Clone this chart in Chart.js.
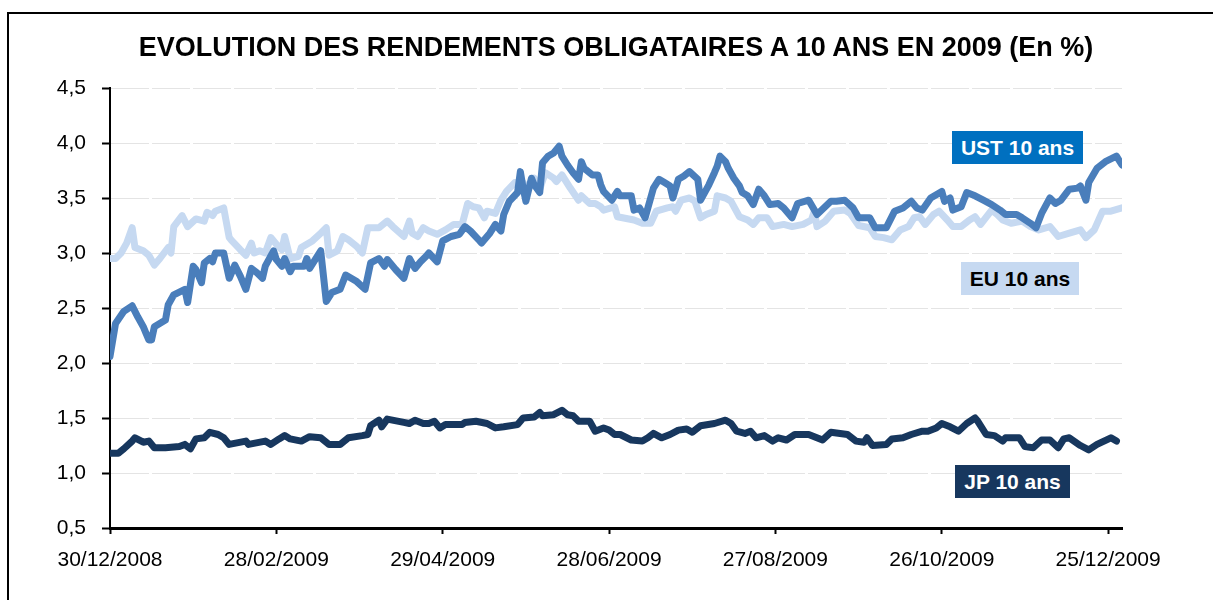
<!DOCTYPE html>
<html>
<head>
<meta charset="utf-8">
<script src="https://cdn.jsdelivr.net/npm/chart.js@4.4.1/dist/chart.umd.min.js"></script>
<style>
  body { margin: 0; background: #fff; font-family: "Liberation Sans", Arial, sans-serif; }
  #wrap { position: relative; width: 1213px; height: 600px; overflow: hidden; }
  #frame { position: absolute; left: 7px; top: 12px; width: 1300px; height: 700px; border: 2px solid #000; }
  #chart { position: absolute; left: 0; top: 0; }
  .title { position: absolute; left: 0; top: 34px; width: 1232px; text-align: center;
           font-weight: bold; font-size: 27px; line-height: 27px; color: #000; }
  .tag { position: absolute; height: 33px; line-height: 33px; text-align: center;
         font-weight: bold; font-size: 21px; }
</style>
</head>
<body>
<div id="wrap">
  <div id="frame"></div>
  <canvas id="chart" width="1213" height="600"></canvas>
  <div class="title">EVOLUTION DES RENDEMENTS OBLIGATAIRES A 10 ANS EN 2009 (En %)</div>
  <div class="tag" style="left:952px;top:131px;width:131px;background:#0070c0;color:#fff">UST 10 ans</div>
  <div class="tag" style="left:961px;top:262px;width:118px;background:#c6d9f1;color:#000">EU 10 ans</div>
  <div class="tag" style="left:955px;top:465px;width:115px;background:#17375e;color:#fff">JP 10 ans</div>
</div>
<script>
// ===== DATA (days counted from 30/12/2008) =====
const startDate = Date.UTC(2008, 11, 30);
const xTickDays = [0, 60, 120, 180, 240, 300, 360];
const xMaxDay = 365;

const ustDays = [0,2,5,8,10,12,13,14,15,16,20,21,23,27,28,30,31,33,34,36,37,38,41,43,45,47,49,51,53,55,56,59,60,62,63,65,66,70,71,72,76,78,80,83,85,87,89,92,94,97,99,100,103,106,108,110,112,114,115,118,120,123,126,128,130,133,134,137,139,141,142,144,147,148,149,150,152,153,155,156,158,160,162,163,165,167,169,170,171,174,176,177,178,181,183,184,188,189,191,193,196,198,200,202,203,205,207,209,212,213,216,218,219,220,222,223,225,227,228,230,232,234,236,238,241,243,246,248,252,255,260,262,265,268,270,274,276,280,283,286,289,291,293,296,300,301,303,304,307,309,312,315,318,321,323,327,329,332,334,336,339,341,343,346,349,350,352,353,356,359,363,365];
const ustValues = [2.06,2.36,2.47,2.52,2.42,2.33,2.27,2.21,2.21,2.33,2.39,2.53,2.62,2.67,2.55,2.88,2.85,2.73,2.91,2.95,2.92,3.00,3.00,2.77,2.89,2.79,2.67,2.86,2.82,2.77,2.88,3.02,2.94,2.88,2.95,2.83,2.88,2.88,2.95,2.86,3.02,2.56,2.64,2.67,2.80,2.77,2.74,2.67,2.91,2.95,2.88,2.94,2.85,2.77,2.95,2.86,2.92,2.97,3.00,2.92,3.11,3.15,3.17,3.24,3.20,3.12,3.09,3.18,3.26,3.20,3.35,3.47,3.55,3.74,3.59,3.47,3.68,3.62,3.55,3.82,3.88,3.91,3.97,3.88,3.80,3.73,3.67,3.83,3.77,3.71,3.71,3.62,3.56,3.48,3.56,3.52,3.52,3.39,3.41,3.32,3.59,3.67,3.64,3.61,3.50,3.67,3.70,3.74,3.67,3.48,3.62,3.73,3.79,3.88,3.83,3.77,3.68,3.61,3.55,3.52,3.44,3.58,3.52,3.44,3.45,3.41,3.32,3.45,3.48,3.35,3.47,3.47,3.48,3.41,3.32,3.32,3.23,3.23,3.38,3.41,3.47,3.41,3.39,3.50,3.56,3.47,3.50,3.39,3.42,3.55,3.52,3.48,3.44,3.39,3.35,3.35,3.32,3.27,3.23,3.36,3.50,3.45,3.48,3.58,3.59,3.61,3.48,3.64,3.77,3.83,3.88,3.80];

const euDays = [0,2,4,6,8,9,12,14,16,18,21,22,23,26,28,31,34,35,37,38,41,43,44,47,49,51,52,54,56,58,60,62,63,65,68,69,71,73,76,78,79,82,84,86,89,91,93,97,100,102,106,108,109,111,113,115,118,121,124,127,129,131,133,135,136,139,141,143,146,149,150,153,155,157,160,161,163,166,169,170,173,175,177,178,182,183,189,192,195,197,201,203,204,206,209,211,213,215,218,219,222,224,227,230,232,234,237,239,243,246,250,253,254,255,258,261,265,267,270,274,276,279,282,285,288,290,292,294,297,299,302,304,307,310,312,314,318,320,322,325,329,332,335,339,342,346,350,352,355,358,361,365];
const euValues = [2.95,2.95,3.00,3.09,3.23,3.05,3.02,2.98,2.89,2.95,3.05,3.00,3.24,3.34,3.24,3.31,3.29,3.37,3.34,3.38,3.41,3.14,3.11,3.03,2.98,3.09,3.00,3.02,3.00,3.14,3.08,3.03,3.15,2.95,2.97,3.05,3.08,3.11,3.18,3.23,2.98,3.02,3.15,3.12,3.06,3.00,3.23,3.23,3.29,3.24,3.15,3.29,3.18,3.15,3.23,3.20,3.17,3.21,3.26,3.26,3.45,3.42,3.41,3.32,3.38,3.36,3.48,3.56,3.64,3.64,3.59,3.68,3.58,3.73,3.68,3.65,3.71,3.59,3.48,3.52,3.45,3.45,3.42,3.39,3.42,3.33,3.30,3.27,3.27,3.38,3.41,3.42,3.38,3.48,3.50,3.47,3.32,3.35,3.38,3.52,3.50,3.47,3.33,3.30,3.26,3.32,3.32,3.24,3.26,3.24,3.26,3.30,3.38,3.24,3.29,3.38,3.39,3.36,3.25,3.23,3.15,3.14,3.12,3.21,3.24,3.32,3.33,3.26,3.35,3.38,3.30,3.24,3.24,3.30,3.33,3.26,3.39,3.35,3.30,3.27,3.29,3.24,3.21,3.24,3.15,3.18,3.21,3.14,3.21,3.38,3.38,3.41];

const jpDays = [0,3,5,8,9,12,14,16,20,25,27,29,31,34,36,39,41,43,49,50,56,58,61,63,65,69,72,76,79,83,86,91,93,94,97,98,100,106,108,110,113,115,117,119,121,127,128,132,136,139,142,147,149,153,155,156,160,163,165,167,169,173,175,178,180,182,184,188,192,194,196,199,202,205,208,210,213,218,222,224,226,229,231,233,236,239,241,244,247,252,257,260,266,269,272,273,275,280,282,286,289,293,295,298,300,303,306,309,312,313,316,319,322,323,328,330,333,336,339,342,344,346,350,353,356,361,363];
const jpValues = [1.18,1.18,1.22,1.29,1.32,1.28,1.29,1.23,1.23,1.24,1.26,1.22,1.31,1.32,1.37,1.35,1.32,1.26,1.29,1.26,1.29,1.26,1.31,1.34,1.31,1.29,1.33,1.32,1.26,1.26,1.32,1.34,1.35,1.43,1.48,1.42,1.49,1.46,1.45,1.48,1.45,1.45,1.47,1.41,1.44,1.44,1.46,1.47,1.45,1.41,1.42,1.44,1.50,1.51,1.55,1.52,1.53,1.57,1.53,1.52,1.47,1.47,1.38,1.41,1.39,1.35,1.35,1.30,1.29,1.32,1.36,1.32,1.35,1.39,1.40,1.37,1.43,1.45,1.48,1.45,1.38,1.36,1.38,1.32,1.34,1.29,1.32,1.30,1.35,1.35,1.30,1.37,1.35,1.29,1.28,1.32,1.25,1.26,1.31,1.32,1.35,1.38,1.38,1.41,1.45,1.42,1.38,1.45,1.50,1.47,1.35,1.34,1.29,1.32,1.32,1.24,1.23,1.30,1.30,1.23,1.31,1.32,1.25,1.21,1.26,1.32,1.29];

// ===== HELPERS =====
function toPoints(days, values) {
  return days.map((d, i) => ({ x: d, y: values[i] }));
}
function dayLabel(d) {
  const dt = new Date(startDate + d * 86400000);
  const dd = String(dt.getUTCDate()).padStart(2, '0');
  const mm = String(dt.getUTCMonth() + 1).padStart(2, '0');
  return dd + '/' + mm + '/' + dt.getUTCFullYear();
}

const font = "'Liberation Sans', Arial, sans-serif";

function lineSet(label, days, values, color, order) {
  return {
    label: label,
    data: toPoints(days, values),
    borderColor: color,
    backgroundColor: color,
    borderWidth: 7,
    pointRadius: 0,
    tension: 0,
    borderJoinStyle: 'round',
    borderCapStyle: 'round',
    order: order
  };
}

// ===== CHART =====
new Chart(document.getElementById('chart'), {
  type: 'line',
  data: {
    datasets: [
      lineSet('EU 10 ans', euDays, euValues, '#c6d9f1', 3),
      lineSet('UST 10 ans', ustDays, ustValues, '#4a7ebb', 2),
      lineSet('JP 10 ans', jpDays, jpValues, '#17375e', 1)
    ]
  },
  options: {
    responsive: false,
    animation: false,
    devicePixelRatio: 1,
    layout: { padding: { top: 88, right: 91, bottom: 0, left: 0 } },
    plugins: { legend: { display: false }, tooltip: { enabled: false }, title: { display: false } },
    scales: {
      x: {
        type: 'linear',
        min: 0, max: xMaxDay,
        afterFit: s => { s.height = 72; },
        afterBuildTicks: s => { s.ticks = xTickDays.map(v => ({ value: v })); },
        border: { display: true, color: '#000', width: 3 },
        grid: { drawOnChartArea: false, drawTicks: true, tickLength: 6, tickColor: '#000', tickWidth: 2 },
        ticks: {
          maxRotation: 0, autoSkip: false, padding: 14,
          color: '#000', font: { family: font, size: 21 },
          callback: v => dayLabel(v)
        }
      },
      y: {
        min: 0.5, max: 4.5,
        afterFit: s => { s.width = 110; },
        border: { display: true, color: '#000', width: 2, dash: [38, 3] },
        grid: { color: '#e4e4e4', lineWidth: 1, tickLength: 8, tickColor: '#000', tickWidth: 2, tickBorderDash: [] },
        ticks: {
          stepSize: 0.5, padding: 16, color: '#000', font: { family: font, size: 21 },
          callback: v => v.toFixed(1).replace('.', ',')
        }
      }
    }
  }
});
</script>
</body>
</html>
